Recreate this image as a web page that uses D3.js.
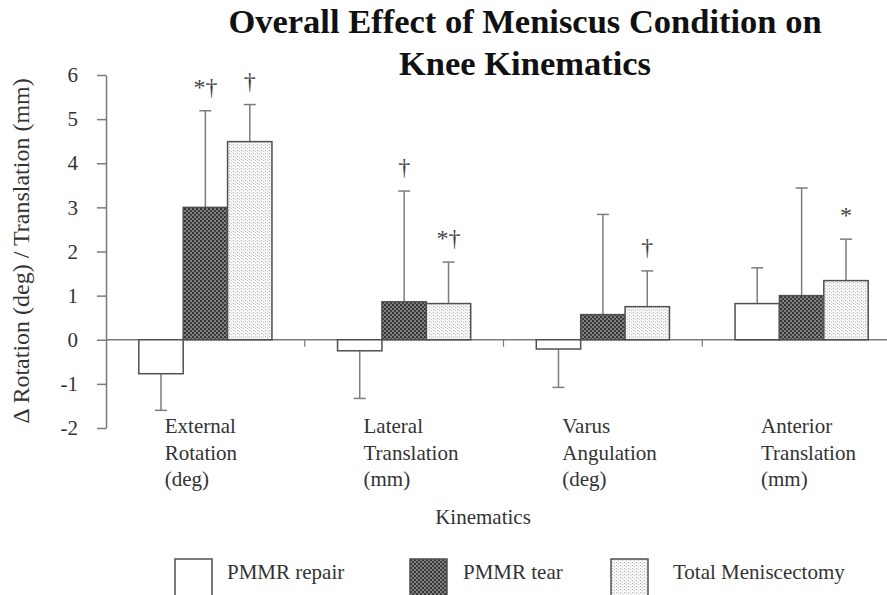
<!DOCTYPE html>
<html>
<head>
<meta charset="utf-8">
<script src="https://cdn.jsdelivr.net/npm/d3@7/dist/d3.min.js"></script>
<style>
  body { margin: 0; background: #fff; }
  svg { display: block; font-family: "Liberation Serif", "Times New Roman", serif; }
</style>
</head>
<body>
<script>
// kinematic measures (x groups), each label split into lines
var categories = ["External Rotation", "Lateral Translation", "Varus Angulation", "Anterior Translation"];
var categoryLines = [["External", "Rotation", "(deg)"], ["Lateral", "Translation", "(mm)"],
                     ["Varus", "Angulation", "(deg)"], ["Anterior", "Translation", "(mm)"]];
var seriesNames = ["PMMR repair", "PMMR tear", "Total Meniscectomy"];

// mean change per condition
var repairMean = [-0.77, -0.25, -0.21, 0.82];
var tearMean   = [3.00, 0.86, 0.57, 1.00];
var totalMean  = [4.49, 0.82, 0.75, 1.34];
// standard deviations (one-sided error bars)
var repairSD = [0.83, 1.08, 0.87, 0.81];
var tearSD   = [2.19, 2.51, 2.27, 2.44];
var totalSD  = [0.84, 0.94, 0.81, 0.94];
// significance marks
var repairSig = ["", "", "", ""];
var tearSig   = ["*†", "†", "", ""];
var totalSig  = ["†", "*†", "†", "*"];

var yTicks = [-2, -1, 0, 1, 2, 3, 4, 5, 6];

var width = 887, height = 595;
var svg = d3.select("body").append("svg").attr("width", width).attr("height", height);

var defs = svg.append("defs");
var pTear = defs.append("pattern").attr("id", "tear").attr("patternUnits", "userSpaceOnUse")
    .attr("width", 4).attr("height", 4);
pTear.append("rect").attr("width", 4).attr("height", 4).attr("fill", "#808080");
pTear.append("rect").attr("width", 2).attr("height", 2).attr("fill", "#353535");
pTear.append("rect").attr("x", 2).attr("y", 2).attr("width", 2).attr("height", 2).attr("fill", "#3e3e3e");
var pTotal = defs.append("pattern").attr("id", "total").attr("patternUnits", "userSpaceOnUse")
    .attr("width", 4).attr("height", 3);
pTotal.append("rect").attr("width", 4).attr("height", 3).attr("fill", "#f6f6f6");
pTotal.append("rect").attr("x", 1).attr("width", 1).attr("height", 1).attr("fill", "#b0b0b0");
pTotal.append("rect").attr("x", 3).attr("y", 1).attr("width", 1).attr("height", 1).attr("fill", "#c8c8c8");

var fills = ["#ffffff", "url(#tear)", "url(#total)"];

var series = seriesNames.map(function(name, s) {
  var m = [repairMean, tearMean, totalMean][s],
      sd = [repairSD, tearSD, totalSD][s],
      sig = [repairSig, tearSig, totalSig][s];
  return categories.map(function(c, i) {
    return { cat: c, series: name, s: s, mean: m[i], sd: sd[i], sig: sig[i] };
  });
});
var flat = [].concat.apply([], series);

var axisX = 106;
var y = d3.scaleLinear().domain([-2, 6]).range([428, 75]);
var x0 = d3.scaleBand().domain(categories).range([axisX, 901]).paddingInner(0.33).paddingOuter(0.165);
var x1 = d3.scaleBand().domain(seriesNames).range([0, x0.bandwidth()]);

// title
var title = svg.append("text").attr("text-anchor", "middle").attr("font-weight", "bold")
    .attr("font-size", 34.5).attr("fill", "#111");
title.append("tspan").attr("x", 525).attr("y", 33).text("Overall Effect of Meniscus Condition on");
title.append("tspan").attr("x", 525).attr("y", 75).text("Knee Kinematics");

// y axis
var yAxis = d3.axisLeft(y).tickValues(yTicks).tickSize(9).tickSizeOuter(0).tickPadding(19)
    .tickFormat(function(d) { return String(d); });
var gy = svg.append("g").attr("transform", "translate(" + axisX + ",0)").call(yAxis);
gy.selectAll("path, line").attr("stroke", "#7a7a7a").attr("stroke-width", 1.5);
gy.selectAll("text").attr("font-family", "Liberation Serif, serif").attr("font-size", 21).attr("fill", "#333");

svg.append("text")
    .attr("transform", "translate(29,251) rotate(-90)")
    .attr("text-anchor", "middle").attr("font-size", 24).attr("fill", "#333")
    .text("Δ Rotation (deg) / Translation (mm)");

// zero line and group separators
svg.append("line").attr("x1", axisX).attr("x2", width).attr("y1", y(0)).attr("y2", y(0))
    .attr("stroke", "#7a7a7a").attr("stroke-width", 1.5);
svg.selectAll("line.sep").data(categories.slice(1)).enter().append("line")
    .attr("class", "sep")
    .attr("x1", function(d) { return x0(d) - x0.step() * 0.165; })
    .attr("x2", function(d) { return x0(d) - x0.step() * 0.165; })
    .attr("y1", y(0)).attr("y2", y(0) + 7)
    .attr("stroke", "#7a7a7a").attr("stroke-width", 1.2);

// error bars (one-sided)
var err = svg.append("g").attr("stroke", "#7d7d7d").attr("stroke-width", 1.5);
flat.forEach(function(d) {
  var cx = x0(d.cat) + x1(d.series) + x1.bandwidth() / 2;
  var end = d.mean >= 0 ? d.mean + d.sd : d.mean - d.sd;
  err.append("line").attr("x1", cx).attr("x2", cx).attr("y1", y(d.mean)).attr("y2", y(end));
  err.append("line").attr("x1", cx - 6).attr("x2", cx + 6).attr("y1", y(end)).attr("y2", y(end));
});

// bars
svg.append("g").selectAll("rect").data(flat).enter().append("rect")
    .attr("x", function(d) { return x0(d.cat) + x1(d.series); })
    .attr("y", function(d) { return y(Math.max(0, d.mean)); })
    .attr("width", x1.bandwidth())
    .attr("height", function(d) { return Math.abs(y(d.mean) - y(0)); })
    .attr("fill", function(d) { return fills[d.s]; })
    .attr("stroke", "#505050").attr("stroke-width", 1.5);

// significance marks
svg.append("g").selectAll("text").data(flat.filter(function(d) { return d.sig; })).enter().append("text")
    .attr("x", function(d) { return x0(d.cat) + x1(d.series) + x1.bandwidth() / 2; })
    .attr("y", function(d) { return y(d.mean + d.sd) - 16; })
    .attr("text-anchor", "middle").attr("font-size", 24).attr("fill", "#444")
    .text(function(d) { return d.sig; });

// category labels
var cl = svg.append("g").selectAll("text").data(categories).enter().append("text")
    .attr("font-size", 21).attr("fill", "#333");
cl.each(function(c, i) {
  var t = d3.select(this);
  categoryLines[i].forEach(function(line, j) {
    t.append("tspan").attr("x", x0(c) + 26).attr("y", 433 + j * 26.5).text(line);
  });
});

svg.append("text").attr("x", 483).attr("y", 524).attr("text-anchor", "middle")
    .attr("font-size", 21).attr("fill", "#333").text("Kinematics");

// legend
var legendX = [175, 410, 611];
var lg = svg.append("g").selectAll("g").data(seriesNames).enter().append("g")
    .attr("transform", function(d, i) { return "translate(" + legendX[i] + ",559)"; });
lg.append("rect").attr("width", 37).attr("height", 37)
    .attr("fill", function(d, i) { return fills[i]; })
    .attr("stroke", "#505050").attr("stroke-width", 1.5);
lg.append("text").attr("x", function(d, i) { return [52, 53, 62][i]; }).attr("y", 20)
    .attr("font-size", 21).attr("fill", "#333").text(function(d) { return d; });
</script>
</body>
</html>
